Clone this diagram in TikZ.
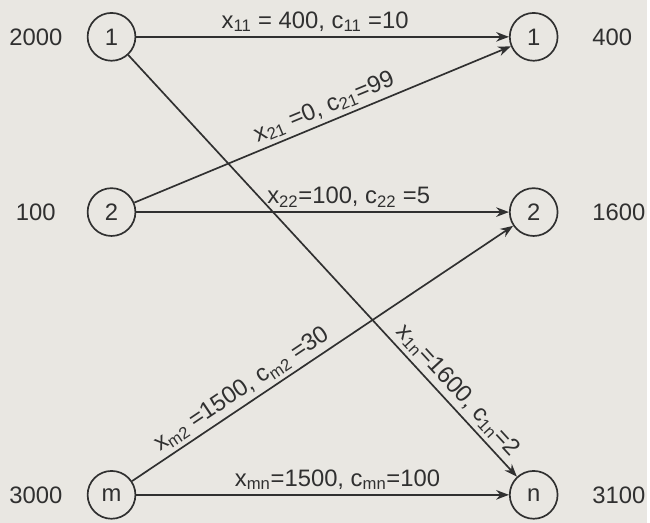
\documentclass[tikz,border=0pt]{standalone}
\usepackage{fontspec}
\setmainfont{Liberation Sans}
\usetikzlibrary{arrows.meta}
\definecolor{paper}{RGB}{233,231,226}
\definecolor{ink}{RGB}{48,48,48}
\newcommand{\ix}[1]{\textsubscript{#1}}

\begin{document}
\begin{tikzpicture}[x=0.025cm, y=-0.025cm, every node/.style={font=\fontsize{17}{20}\selectfont, text=ink}, >={Stealth[length=3.2mm, width=2.4mm]}, nd/.style={circle, draw=ink, line width=1.2pt, minimum size=1.2cm, inner sep=0pt}, arc/.style={->, draw=ink, line width=1.2pt}, lbl/.style={inner sep=3pt}]
	\fill[paper] (0,0) rectangle (650,525);
	% sources
	\node[nd] (s1) at (112,37) {1};
	\node[nd] (s2) at (112,213) {2};
	\node[nd] (sm) at (112,497) {m};
	% destinations
	\node[nd] (d1) at (536,37) {1};
	\node[nd] (d2) at (536,213) {2};
	\node[nd] (dn) at (536,497) {n};
	% supplies and demands
	\node (a1) at (36,37) {2000};
	\node (a2) at (36,213) {100};
	\node (am) at (36,497) {3000};
	\node[anchor=west] (b1) at (590,37) {400};
	\node[anchor=west] (b2) at (590,213) {1600};
	\node[anchor=west] (bn) at (590,497) {3100};
	% shipments
	\draw[arc] (s1) -- node[lbl, above, pos=0.48] (f11) {x\ix{11} = 400, c\ix{11} =10} (d1);
	\draw[arc] (s2) -- node[lbl, above, sloped, pos=0.52] (f21) {x\ix{21} =0, c\ix{21}=99} (d1);
	\draw[arc] (s2) -- node[lbl, above, pos=0.57] (f22) {x\ix{22}=100, c\ix{22} =5} (d2);
	\draw[arc] (s1) -- node[lbl, above, sloped, pos=0.82] (f1n) {x\ix{1n}=1600, c\ix{1n}=2} (dn);
	\draw[arc] (sm) -- node[lbl, above, sloped, pos=0.31] (fm2) {x\ix{m2} =1500, c\ix{m2} =30} (d2);
	\draw[arc] (sm) -- node[lbl, above, pos=0.54] (fmn) {x\ix{mn}=1500, c\ix{mn}=100} (dn);
\end{tikzpicture}
\end{document}
